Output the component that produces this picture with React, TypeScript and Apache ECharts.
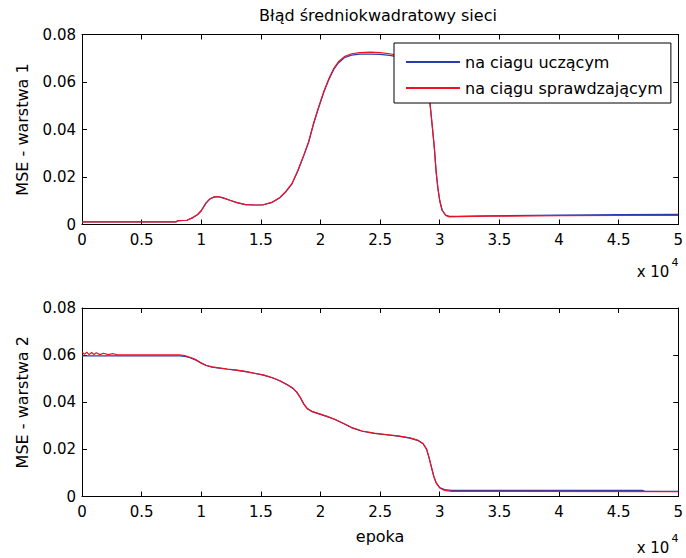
import React, { useEffect, useRef } from "react";
import * as echarts from "echarts";

const chartTitle = "Błąd średniokwadratowy sieci";
const legendNames = ["na ciagu uczącym", "na ciągu sprawdzającym"];
const yNames = ["MSE - warstwa 1", "MSE - warstwa 2"];
const xName = "epoka";
const xTickStep = 0.5;
const yTickStep = 0.02;

// x in units of 10^4 epochs
const layer1Train: number[][] = [
  [0, 0.0011], [0.79, 0.0011], [0.8, 0.0016], [0.88, 0.0018], [0.93, 0.0029], [0.97, 0.0042],
  [1.0, 0.0058], [1.04, 0.009], [1.07, 0.0106], [1.1, 0.0114], [1.14, 0.0117], [1.18, 0.0112],
  [1.24, 0.0102], [1.3, 0.0092], [1.37, 0.0084], [1.45, 0.0082], [1.52, 0.0083], [1.59, 0.0092],
  [1.66, 0.0113], [1.71, 0.0138], [1.76, 0.017], [1.81, 0.0225], [1.86, 0.029], [1.9, 0.0345],
  [1.94, 0.042], [1.98, 0.0485], [2.03, 0.056], [2.07, 0.061], [2.11, 0.0652], [2.15, 0.068],
  [2.2, 0.0702], [2.26, 0.0713], [2.33, 0.0717], [2.42, 0.0717], [2.5, 0.0716], [2.58, 0.0712],
  [2.65, 0.0706], [2.72, 0.07], [2.8, 0.069], [2.85, 0.0675], [2.88, 0.064], [2.9, 0.058],
  [2.92, 0.05], [2.94, 0.04], [2.955, 0.032], [2.97, 0.022], [2.985, 0.015], [3.0, 0.01],
  [3.02, 0.006], [3.05, 0.004], [3.08, 0.0034], [3.15, 0.0034], [3.4, 0.0036], [4.0, 0.004],
  [4.5, 0.0042], [5, 0.0043],
];
const layer1Valid: number[][] = [
  [0, 0.0011], [0.79, 0.0011], [0.8, 0.0015], [0.88, 0.0018], [0.93, 0.0029], [0.97, 0.0042],
  [1.0, 0.0058], [1.04, 0.0091], [1.07, 0.0107], [1.1, 0.0115], [1.14, 0.0118], [1.18, 0.0113],
  [1.24, 0.0102], [1.3, 0.0092], [1.37, 0.0084], [1.45, 0.0082], [1.52, 0.0083], [1.59, 0.0093],
  [1.66, 0.0114], [1.71, 0.0139], [1.76, 0.0172], [1.81, 0.0227], [1.86, 0.0292], [1.9, 0.0348],
  [1.94, 0.0423], [1.98, 0.0488], [2.03, 0.0563], [2.07, 0.0614], [2.11, 0.0656], [2.15, 0.0685],
  [2.2, 0.0707], [2.26, 0.0719], [2.33, 0.0724], [2.42, 0.0726], [2.5, 0.0724], [2.58, 0.0719],
  [2.65, 0.0712], [2.72, 0.0704], [2.8, 0.0693], [2.85, 0.0677], [2.88, 0.0642], [2.9, 0.0582],
  [2.92, 0.0502], [2.94, 0.0402], [2.955, 0.0322], [2.97, 0.0222], [2.985, 0.0152], [3.0, 0.0101],
  [3.02, 0.006], [3.05, 0.0038], [3.08, 0.0032], [3.15, 0.0033], [3.4, 0.0035], [4.0, 0.0037],
  [4.5, 0.0038], [5, 0.0038],
];
const layer2Train: number[][] = [
  [0, 0.0597], [0.82, 0.0597], [0.86, 0.0595], [0.9, 0.059], [0.95, 0.058], [1.0, 0.0566],
  [1.04, 0.0556], [1.09, 0.0549], [1.15, 0.0545], [1.22, 0.054], [1.3, 0.0535], [1.37, 0.053],
  [1.45, 0.0522], [1.52, 0.0515], [1.6, 0.0503], [1.66, 0.049], [1.72, 0.0474], [1.77, 0.0458],
  [1.8, 0.0443], [1.83, 0.042], [1.86, 0.0392], [1.89, 0.0372], [1.93, 0.036], [1.98, 0.0352],
  [2.05, 0.034], [2.12, 0.0327], [2.2, 0.0308], [2.27, 0.029], [2.35, 0.0277], [2.45, 0.0268],
  [2.55, 0.0262], [2.65, 0.0256], [2.75, 0.0248], [2.82, 0.0237], [2.86, 0.0224], [2.89, 0.02],
  [2.91, 0.0165], [2.93, 0.0125], [2.95, 0.0085], [2.97, 0.0058], [3.0, 0.0038], [3.04, 0.0029],
  [3.1, 0.0026], [4.7, 0.0026], [4.72, 0.0022], [5, 0.0022],
];
const layer2Valid: number[][] = [
  [0, 0.0614], [0.02, 0.0603], [0.04, 0.0612], [0.06, 0.0602], [0.08, 0.0611], [0.1, 0.0603],
  [0.12, 0.061], [0.15, 0.0602], [0.18, 0.0608], [0.22, 0.0602], [0.26, 0.0606], [0.3, 0.0601],
  [0.82, 0.0601], [0.86, 0.0598], [0.9, 0.0592], [0.95, 0.0582], [1.0, 0.0567], [1.04, 0.0557],
  [1.09, 0.055], [1.15, 0.0546], [1.22, 0.0541], [1.3, 0.0536], [1.37, 0.0531], [1.45, 0.0523],
  [1.52, 0.0516], [1.6, 0.0504], [1.66, 0.0491], [1.72, 0.0475], [1.77, 0.0459], [1.8, 0.0444],
  [1.83, 0.0421], [1.86, 0.0393], [1.89, 0.0373], [1.93, 0.0361], [1.98, 0.0353], [2.05, 0.0341],
  [2.12, 0.0328], [2.2, 0.0309], [2.27, 0.0291], [2.35, 0.0278], [2.45, 0.0269], [2.55, 0.0263],
  [2.65, 0.0257], [2.75, 0.0249], [2.82, 0.0238], [2.86, 0.0225], [2.89, 0.0201], [2.91, 0.0166],
  [2.93, 0.0126], [2.95, 0.0086], [2.97, 0.0058], [3.0, 0.0036], [3.04, 0.0026], [3.1, 0.0022],
  [5, 0.0021],
];

const FONT = "DejaVu Sans";
const BLUE = "#2a3bb0";
const RED = "#f0121e";

export default function App() {
  const ref = useRef<HTMLDivElement>(null);
  useEffect(() => {
    if (!ref.current) return;
    const chart = echarts.init(ref.current, null, { renderer: "svg" });
    const grids = [
      { left: 82, right: 7.5, top: 34.5, height: 190 },
      { left: 82, right: 7.5, top: 308, height: 188.5 },
    ];
    const axisLine = { show: true, onZero: false, lineStyle: { color: "#000", width: 1 } };
    const tick = { show: true, inside: true, length: 5, lineStyle: { color: "#000", width: 1 } };
    const xAxes: any[] = [];
    const yAxes: any[] = [];
    grids.forEach((_, gi) => {
      xAxes.push({
        type: "value", gridIndex: gi, position: "bottom", min: 0, max: 5, interval: xTickStep,
        axisLine, axisTick: tick, splitLine: { show: false },
        axisLabel: { color: "#000", fontFamily: FONT, fontSize: 15, margin: 8 },
        name: gi === 1 ? xName : "", nameLocation: "middle", nameGap: 32,
        nameTextStyle: { color: "#000", fontFamily: FONT, fontSize: 16 },
      });
      xAxes.push({
        type: "value", gridIndex: gi, position: "top", min: 0, max: 5, interval: xTickStep,
        axisLine, axisTick: tick, splitLine: { show: false }, axisLabel: { show: false },
      });
      yAxes.push({
        type: "value", gridIndex: gi, position: "left", min: 0, max: 0.08, interval: yTickStep,
        axisLine, axisTick: tick, splitLine: { show: false },
        axisLabel: { color: "#000", fontFamily: FONT, fontSize: 15, margin: 6 },
        name: yNames[gi], nameLocation: "middle", nameGap: 52, nameRotate: 90,
        nameTextStyle: { color: "#000", fontFamily: FONT, fontSize: 16 },
      });
      yAxes.push({
        type: "value", gridIndex: gi, position: "right", min: 0, max: 0.08, interval: yTickStep,
        axisLine, axisTick: tick, splitLine: { show: false }, axisLabel: { show: false },
      });
    });
    const mk = (name: string, data: number[][], color: string, gi: number) => ({
      name, type: "line", data, xAxisIndex: gi * 2, yAxisIndex: gi * 2,
      showSymbol: false, symbol: "none", lineStyle: { color, width: 1.2 }, itemStyle: { color },
      z: color === RED ? 3 : 2,
    });
    chart.setOption({
      animation: false,
      backgroundColor: "#fff",
      grid: grids,
      xAxis: xAxes,
      yAxis: yAxes,
      legend: {
        orient: "vertical", left: 394, top: 43, data: legendNames,
        padding: [10, 8, 6, 12], itemGap: 8, itemWidth: 54, itemHeight: 2, icon: "rect",
        borderColor: "#000", borderWidth: 1, backgroundColor: "#fff",
        textStyle: { color: "#000", fontFamily: FONT, fontSize: 16, lineHeight: 18 },
      },
      graphic: [
        { type: "text", x: 378, y: 15, style: { text: chartTitle, fill: "#000", font: `16px '${FONT}'`, textAlign: "center", textVerticalAlign: "middle" } },
        { type: "text", x: 653, y: 272, style: { text: "x 10", fill: "#000", font: `15px '${FONT}'`, textAlign: "center", textVerticalAlign: "middle" } },
        { type: "text", x: 675, y: 262, style: { text: "4", fill: "#000", font: `11px '${FONT}'`, textAlign: "center", textVerticalAlign: "middle" } },
        { type: "text", x: 653, y: 548, style: { text: "x 10", fill: "#000", font: `15px '${FONT}'`, textAlign: "center", textVerticalAlign: "middle" } },
        { type: "text", x: 675, y: 538, style: { text: "4", fill: "#000", font: `11px '${FONT}'`, textAlign: "center", textVerticalAlign: "middle" } },
      ],
      series: [
        mk(legendNames[0], layer1Train, BLUE, 0),
        mk(legendNames[1], layer1Valid, RED, 0),
        mk(legendNames[0], layer2Train, BLUE, 1),
        mk(legendNames[1], layer2Valid, RED, 1),
      ],
    });
    return () => chart.dispose();
  }, []);
  return <div ref={ref} style={{ position: "absolute", left: 0, top: 0, width: 686, height: 558 }} />;
}
